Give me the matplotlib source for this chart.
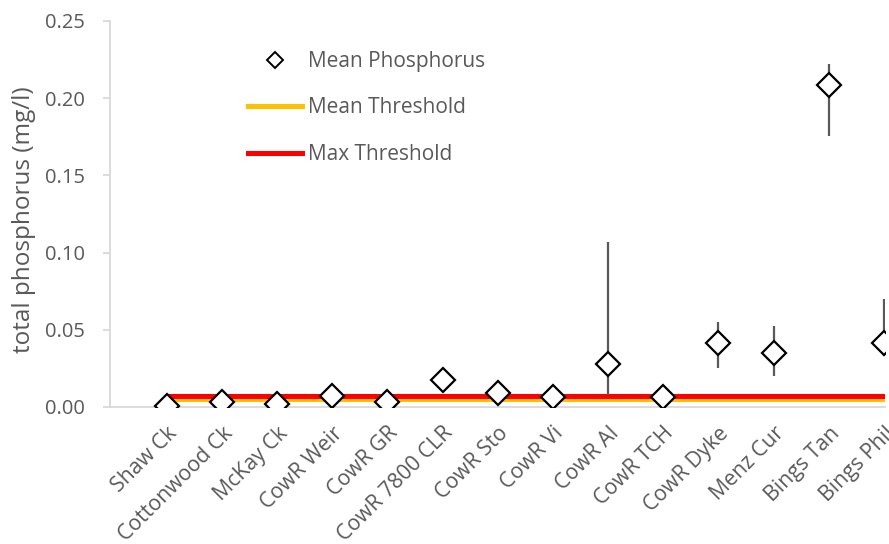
import matplotlib
matplotlib.use("Agg")
import matplotlib.pyplot as plt
import matplotlib.transforms as mtransforms
from matplotlib.lines import Line2D
import numpy as np

plt.rcParams['font.family'] = ['Open Sans', 'DejaVu Sans']

sites = ["Shaw Ck", "Cottonwood Ck", "McKay Ck", "CowR Weir", "CowR GR",
         "CowR 7800 CLR", "CowR Sto", "CowR Vi", "CowR Al", "CowR TCH",
         "CowR Dyke", "Menz Cur", "Bings Tan", "Bings Phil"]
mean_p = [0.0006, 0.003, 0.002, 0.007, 0.003, 0.0175, 0.009, 0.0067,
          0.0276, 0.0067, 0.0412, 0.0348, 0.2085, 0.0417]
p_high = [0.0006, 0.003, 0.002, 0.007, 0.003, 0.0175, 0.009, 0.0067,
          0.107, 0.0067, 0.0552, 0.0525, 0.222, 0.0697]
p_low = [0.0006, 0.003, 0.002, 0.007, 0.003, 0.0175, 0.009, 0.0067,
         0.008, 0.0067, 0.0255, 0.0201, 0.1755, 0.033]
mean_threshold = 0.005
max_threshold = 0.007
y_ticks = [0.00, 0.05, 0.10, 0.15, 0.20, 0.25]

text_color = "#595959"
axis_color = "#D9D9D9"

fig = plt.figure(figsize=(8.89, 5.44), dpi=100)
W, H = 889, 544
ax = fig.add_axes([110 / W, 1 - 407 / H, (885 - 110) / W, (407 - 21) / H])

x = np.arange(len(sites))
mean_arr = np.array(mean_p)
err = np.vstack([mean_arr - np.array(p_low), np.array(p_high) - mean_arr])

# threshold lines run from the first site to the right edge
ax.plot([0, len(sites)], [mean_threshold] * 2, color="#FFC000", lw=3.6,
        solid_capstyle="butt", zorder=2)
ax.plot([0, len(sites)], [max_threshold] * 2, color="#FF0000", lw=3.6,
        solid_capstyle="butt", zorder=3)

ax.errorbar(x, mean_arr, yerr=err, fmt="none", ecolor="#595959",
            elinewidth=1.6, capsize=0, zorder=4)
ax.plot(x, mean_arr, linestyle="none", marker="D", markersize=12.5,
        markerfacecolor="white", markeredgecolor="black",
        markeredgewidth=1.6, zorder=5)

ax.set_xlim(-1.03, 13.02)
ax.set_ylim(0, 0.25)
ax.set_yticks(y_ticks)
ax.set_yticklabels([f"{v:.2f}" for v in y_ticks])
ax.set_xticks(x)
ax.set_xticklabels(sites, rotation=45, ha="right", va="top",
                   rotation_mode="anchor")
shift = mtransforms.ScaledTranslation(-5 / 100, 0, fig.dpi_scale_trans)
for lbl in ax.get_xticklabels():
    lbl.set_transform(lbl.get_transform() + shift)

for s in ["top", "right"]:
    ax.spines[s].set_visible(False)
ax.spines["left"].set_color(axis_color)
ax.spines["left"].set_linewidth(1.3)
ax.spines["bottom"].set_color(axis_color)
ax.spines["bottom"].set_linewidth(1.3)

ax.tick_params(axis="y", colors=axis_color, labelcolor=text_color,
               labelsize=14.5, length=5, width=1.3, pad=13)
ax.tick_params(axis="x", length=0, labelcolor=text_color, labelsize=15.3,
               pad=11.3)

ax.set_ylabel("total phosphorus (mg/l)", color=text_color, fontsize=17.5)
ax.yaxis.set_label_coords(36 / W, 1 - 220 / H, transform=fig.transFigure)

handles = [
    Line2D([], [], linestyle="none", marker="D", markersize=8,
           markerfacecolor="white", markeredgecolor="black",
           markeredgewidth=1.4),
    Line2D([], [], color="#FFC000", lw=3.6),
    Line2D([], [], color="#FF0000", lw=3.6),
]
labels = ["Mean Phosphorus", "Mean Threshold", "Max Threshold"]
leg = ax.legend(handles, labels, loc="upper left",
                bbox_to_anchor=(248 / W, 1 - 51 / H),
                bbox_transform=fig.transFigure, frameon=False,
                fontsize=15, handlelength=2.6, handletextpad=0.3,
                labelspacing=1.22, borderpad=0, borderaxespad=0)
for t in leg.get_texts():
    t.set_color(text_color)

fig.savefig("out.png", dpi=100)
